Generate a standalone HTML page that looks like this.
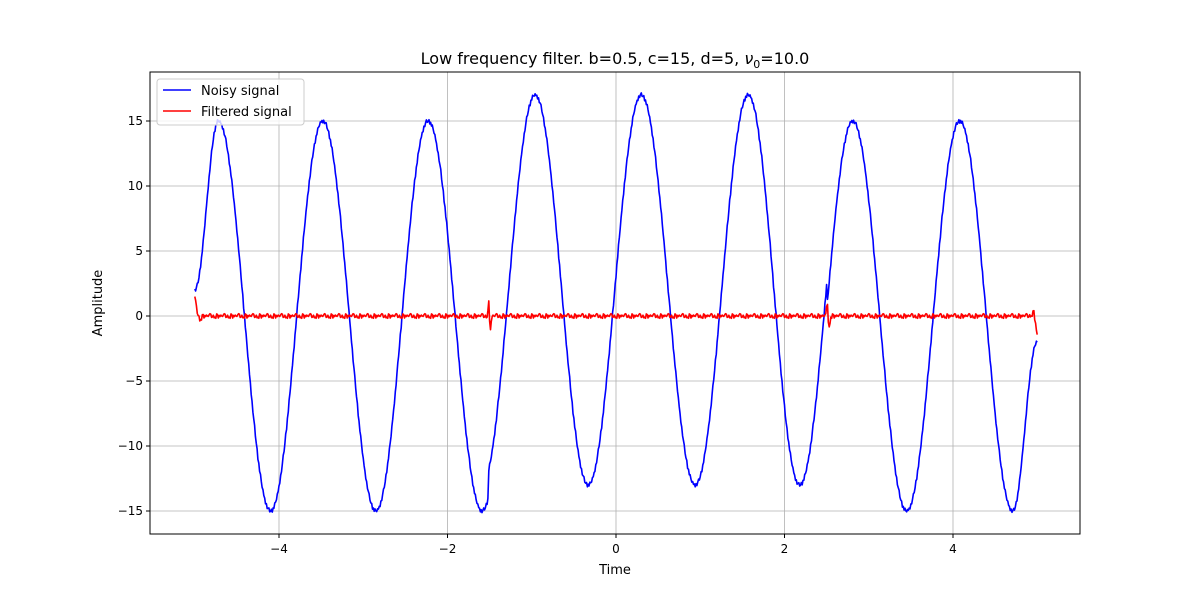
<!DOCTYPE html>
<html><head><meta charset="utf-8"><style>
body{margin:0;background:#fff;font-family:"Liberation Sans","DejaVu Sans",sans-serif;position:relative}
svg text{font-family:"DejaVu Sans","Liberation Sans",sans-serif}
</style></head><body>
<svg id="c" width="1200" height="600" xmlns="http://www.w3.org/2000/svg"></svg>
<script>
// ---- data ----
const xTicks = [-4, -2, 0, 2, 4];
const yTicks = [-15, -10, -5, 0, 5, 10, 15];
// base sinusoid extrema (time, value)
const extremaT = [-5.0, -4.72, -4.10, -3.48, -2.85, -2.23, -1.59, -0.96, -0.33, 0.30, 0.94, 1.57, 2.18, 2.81, 3.45, 4.08, 4.71, 5.0];
const extremaV = [2.0, 15, -15, 15, -15, 15, -15, 15, -15, 15, -15, 15, -15, 15, -15, 15, -15, -2.0];
// offset segment (start, end, value)
const offsetStart = [-1.52];
const offsetEnd = [2.5];
const offsetVal = [2.0];
// filtered signal key points
const filtT = [-5.0, -4.97, -4.94, -4.9, -1.53, -1.52, -1.51, -1.50, -1.49, -1.47, 2.49, 2.50, 2.51, 2.52, 2.53, 2.55, 4.9, 4.93, 4.96, 5.0];
const filtV = [1.4, 0.3, -0.25, 0.0, 0.0, 0.6, 1.0, -0.5, -0.9, 0.0, 0.0, 0.6, 1.0, -0.4, -0.9, 0.0, 0.0, 0.1, 0.3, -1.5];
const noise = [0.1, -0.15, 0.05, 0.2, -0.1, -0.05, 0.15, -0.2, 0.08, -0.12, 0.18, 0.0, -0.08, 0.12, -0.03, 0.07, -0.17];

const svg = document.getElementById('c');
const NS = 'http://www.w3.org/2000/svg';
const L = 150, R = 1080, T = 72, B = 534;
const sx = t => 616 + t * 84.25;
const sy = v => 316 - v * 13.0;
function mk(tag, at, parent) {
  const e = document.createElementNS(NS, tag);
  for (const k in at) e.setAttribute(k, at[k]);
  (parent || svg).appendChild(e);
  return e;
}
xTicks.forEach(t => {
  const g = mk('line', {x1: sx(t), x2: sx(t), y1: T, y2: B, stroke: '#b0b0b0', 'stroke-width': 0.8});
  
  
  const tk = mk('line', {x1: sx(t), x2: sx(t), y1: B, y2: B + 4, stroke: '#000'});
  
  
  const tx = mk('text', {x: sx(t), y: B + 19, 'font-size': 12, 'text-anchor': 'middle'});
  tx.textContent = (t < 0 ? '\u2212' + (-t) : t);
  
  
});
yTicks.forEach(v => {
  const g = mk('line', {x1: L, x2: R, y1: sy(v), y2: sy(v), stroke: '#b0b0b0', 'stroke-width': 0.8});
  
  
  const tk = mk('line', {x1: L - 4, x2: L, y1: sy(v), y2: sy(v), stroke: '#000'});
  
  
  const tx = mk('text', {x: L - 7, y: sy(v) + 4, 'font-size': 12, 'text-anchor': 'end'});
  tx.textContent = (v < 0 ? '\u2212' + (-v) : v);
  
  
});
function base(t) {
  let i = 0;
  while (i < extremaT.length - 2 && t > extremaT[i + 1]) i++;
  const t0 = extremaT[i], t1 = extremaT[i + 1];
  const f = Math.min(1, Math.max(0, (t - t0) / (t1 - t0)));
  const w = (1 - Math.cos(Math.PI * f)) / 2;
  let v = extremaV[i] + (extremaV[i + 1] - extremaV[i]) * w;
  for (let k = 0; k < offsetStart.length; k++) if (t >= offsetStart[k] && t < offsetEnd[k]) v += offsetVal[k];
  return v;
}
let d = '', n = 0;
for (let t = -5; t <= 5.0001; t += 0.01, n++) {
  const v = base(t) + noise[n % noise.length] * 0.8;
  d += (n ? 'L' : 'M') + sx(t).toFixed(1) + ' ' + sy(v).toFixed(1);
}
const noisy = mk('path', {d: d, fill: 'none', stroke: '#0000ff', 'stroke-width': 1.6, 'stroke-linejoin': 'round'});


let fd = '', m = 0;
for (let t = -5; t <= 5.0001; t += 0.01, m++) {
  let i = 0;
  while (i < filtT.length - 2 && t > filtT[i + 1]) i++;
  const f = Math.min(1, Math.max(0, (t - filtT[i]) / (filtT[i + 1] - filtT[i])));
  let v = filtV[i] + (filtV[i + 1] - filtV[i]) * f;
  v += noise[(m * 3) % noise.length] * 0.9;
  fd += (m ? 'L' : 'M') + sx(t).toFixed(1) + ' ' + sy(v).toFixed(1);
}
const filt = mk('path', {d: fd, fill: 'none', stroke: '#ff0000', 'stroke-width': 1.6, 'stroke-linejoin': 'round'});


const fr = mk('rect', {x: L, y: T, width: R - L, height: B - T, fill: 'none', stroke: '#000', 'stroke-width': 1});


</script>
<svg style="position:absolute;left:0;top:0" width="1200" height="600" xmlns="http://www.w3.org/2000/svg">
<text x="615" y="64" font-size="16" text-anchor="middle">Low frequency filter. b=0.5, c=15, d=5, <tspan font-style="italic">ν</tspan><tspan font-size="11" dy="4">0</tspan><tspan dy="-4">=10.0</tspan></text>
<text x="615" y="574" font-size="13" text-anchor="middle">Time</text>
<text x="102" y="303" font-size="13" text-anchor="middle" transform="rotate(-90 102 303)">Amplitude</text>
<g>
<rect x="157" y="79" width="147" height="46" rx="3" fill="#fff" fill-opacity="0.8" stroke="#ccc"/>
<line x1="163" x2="191" y1="90" y2="90" stroke="#0000ff" stroke-width="1.6"/>
<text x="201" y="95" font-size="13">Noisy signal</text>
<line x1="163" x2="191" y1="111" y2="111" stroke="#ff0000" stroke-width="1.6"/>
<text x="201" y="116" font-size="13">Filtered signal</text>
</g>
</svg>
</body></html>
